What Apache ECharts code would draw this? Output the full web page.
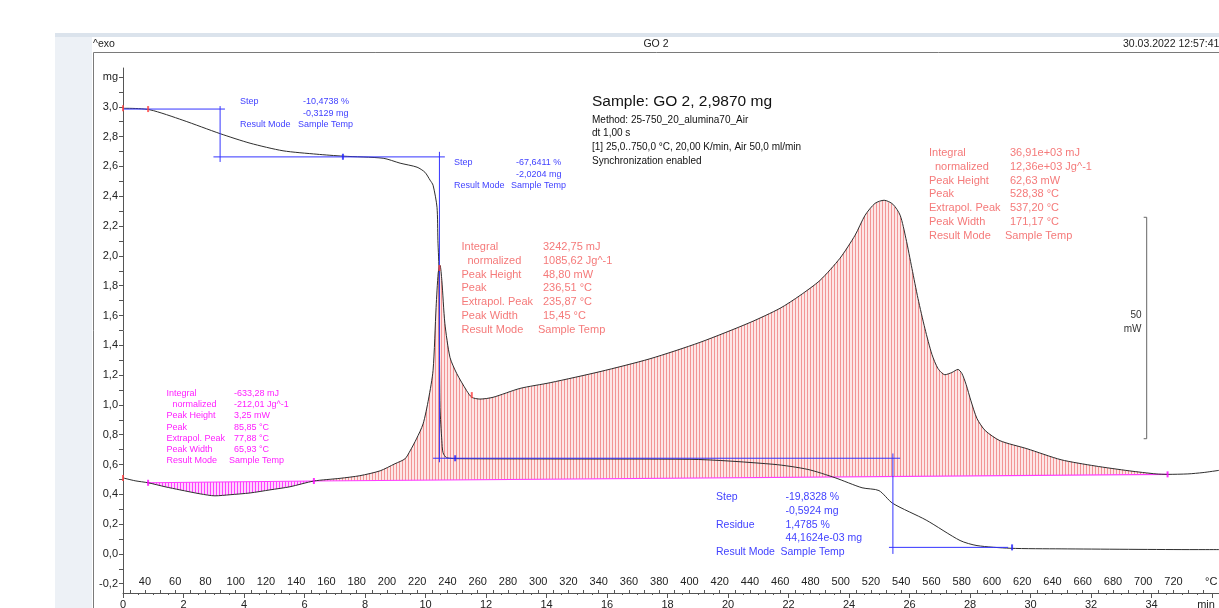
<!DOCTYPE html>
<html><head><meta charset="utf-8">
<script src="https://cdn.jsdelivr.net/npm/echarts@6/dist/echarts.min.js"></script>
<style>html,body{margin:0;padding:0;background:#fff;overflow:hidden}#c{width:1219px;height:608px}</style>
</head><body><div id="c"></div><script>
// ---------- data ----------
const tgaTime = [0, 0.13, 0.89, 1.98, 3.21, 4.20, 5.29, 6.41, 7.27, 8.60, 9.16, 9.72, 9.98, 10.15, 10.25, 10.38, 10.41, 10.45, 10.46, 10.48, 10.54, 10.58, 10.70, 11.14, 14.12, 18.74, 21.52, 22.64, 23.54, 24.43, 24.99, 25.44, 26.55, 27.67, 28.23, 29.32, 31.01, 35.47, 36.23];
const tgaMass = [2.99, 2.99, 2.98, 2.91, 2.82, 2.756, 2.705, 2.682, 2.669, 2.655, 2.622, 2.595, 2.561, 2.508, 2.474, 2.326, 2.104, 1.882, 1.432, 0.982, 0.760, 0.679, 0.645, 0.639, 0.637, 0.635, 0.601, 0.567, 0.511, 0.444, 0.425, 0.340, 0.227, 0.090, 0.056, 0.038, 0.034, 0.029, 0.029];

const dscTime = [0, 0.40, 0.83, 1.39, 1.88, 2.55, 3.04, 3.54, 4.20, 4.86, 5.52, 6.31, 7.17, 7.83, 8.50, 8.99, 9.32, 9.49, 9.70, 9.92, 10.10, 10.25, 10.35, 10.42, 10.48, 10.54, 10.64, 10.81, 11.03, 11.36, 11.53, 11.80, 12.23, 13.12, 14.12, 15.77, 17.42, 19.07, 20.73, 21.72, 22.38, 23.04, 23.70, 24.20, 24.53, 24.86, 25.16, 25.45, 25.69, 25.88, 26.08, 26.28, 26.51, 26.74, 26.94, 27.17, 27.40, 27.60, 27.73, 27.87, 28.03, 28.23, 28.50, 28.99, 29.88, 31.01, 32.13, 33.26, 34.15, 34.53, 35.20, 35.70, 36.23];
const dscPower = [0.2, -0.45, -0.9, -1.8, -2.5, -3.4, -3.85, -3.6, -3.2, -2.5, -1.8, -0.5, 0.1, 0.7, 1.8, 3.4, 4.5, 6.3, 9.0, 12.4, 18.0, 24.5, 38.7, 46.5, 48.2, 44.8, 35.1, 27.4, 23.8, 19.9, 18.4, 18.0, 18.4, 20.4, 21.7, 24.2, 27.1, 30.8, 35.3, 38.5, 41.4, 44.8, 49.8, 55.0, 59.5, 62.2, 62.9, 62.0, 59.5, 54.3, 47.5, 40.7, 33.9, 28.1, 24.9, 23.5, 24.0, 24.7, 23.8, 21.3, 17.6, 13.6, 10.9, 8.6, 6.8, 4.3, 2.9, 1.8, 1.1, 1.0, 1.1, 1.4, 1.9];

// integration baselines (min, mW)
const baselineEndo = [[0.83, -0.9], [6.31, -0.5]];
const baselineExo = [[6.31, -0.5], [34.53, 1.0]];
const exoSplit = 11.53;

// TGA step construction lines (min, mg)
const stepLines = [
  [[0, 2.985], [3.37, 2.985]],
  [[3.21, 3.005], [3.21, 2.63]],
  [[2.99, 2.664], [10.64, 2.664]],
  [[10.46, 2.698], [10.46, 0.615]],
  [[10.25, 0.642], [25.69, 0.642]],
  [[25.45, 0.674], [25.45, 0.0]],
  [[25.32, 0.044], [29.26, 0.044]]
];
const tgaRedMarks = [[0, 2.99], [0.83, 2.985]];
const tgaBlueMarks = [[7.27, 2.665], [10.98, 0.642], [29.39, 0.044]];
const dscRedMarks = [[0, 0.2], [10.46, 47.6], [11.53, 18.9]];
const dscMagentaMarks = [[0.83, -0.9], [6.31, -0.5], [34.53, 1.0]];
const scaleBar = [[33.74, 59.05], [33.84, 59.05], [33.84, 9.05], [33.74, 9.05]];

// tick labels
const massLabels = [-0.2, 0, 0.2, 0.4, 0.6, 0.8, 1.0, 1.2, 1.4, 1.6, 1.8, 2.0, 2.2, 2.4, 2.6, 2.8, 3.0, 3.2];
const massTicks = [-0.2, -0.1, 0, 0.1, 0.2, 0.3, 0.4, 0.5, 0.6, 0.7, 0.8, 0.9, 1.0, 1.1, 1.2, 1.3, 1.4, 1.5, 1.6, 1.7, 1.8, 1.9, 2.0, 2.1, 2.2, 2.3, 2.4, 2.5, 2.6, 2.7, 2.8, 2.9, 3.0, 3.1, 3.2];
const timeLabels = [0, 2, 4, 6, 8, 10, 12, 14, 16, 18, 20, 22, 24, 26, 28, 30, 32, 34, 35.8];
const tempLabels = [40, 60, 80, 100, 120, 140, 160, 180, 200, 220, 240, 260, 280, 300, 320, 340, 360, 380, 400, 420, 440, 460, 480, 500, 520, 540, 560, 580, 600, 620, 640, 660, 680, 700, 720, 745];
const tempTicks = [30, 40, 50, 60, 70, 80, 90, 100, 110, 120, 130, 140, 150, 160, 170, 180, 190, 200, 210, 220, 230, 240, 250, 260, 270, 280, 290, 300, 310, 320, 330, 340, 350, 360, 370, 380, 390, 400, 410, 420, 430, 440, 450, 460, 470, 480, 490, 500, 510, 520, 530, 540, 550, 560, 570, 580, 590, 600, 610, 620, 630, 640, 650, 660, 670, 680, 690, 700, 710, 720, 730, 740];

// text blocks
const stepText1 = [["Step", "-10,4738 %"], ["", "-0,3129 mg"], ["Result Mode", "Sample Temp"]];
const stepText2 = [["Step", "-67,6411 %"], ["", "-2,0204 mg"], ["Result Mode", "Sample Temp"]];
const stepText3 = [["Step", "-19,8328 %"], ["", "-0,5924 mg"], ["Residue", "1,4785 %"], ["", "44,1624e-03 mg"], ["Result Mode", "Sample Temp"]];
const peakTextEndo = [["Integral", "-633,28 mJ"], ["  normalized", "-212,01 Jg^-1"], ["Peak Height", "3,25 mW"], ["Peak", "85,85 °C"], ["Extrapol. Peak", "77,88 °C"], ["Peak Width", "65,93 °C"], ["Result Mode", "Sample Temp"]];
const peakTextExo1 = [["Integral", "3242,75 mJ"], ["  normalized", "1085,62 Jg^-1"], ["Peak Height", "48,80 mW"], ["Peak", "236,51 °C"], ["Extrapol. Peak", "235,87 °C"], ["Peak Width", "15,45 °C"], ["Result Mode", "Sample Temp"]];
const peakTextExo2 = [["Integral", "36,91e+03 mJ"], ["  normalized", "12,36e+03 Jg^-1"], ["Peak Height", "62,63 mW"], ["Peak", "528,38 °C"], ["Extrapol. Peak", "537,20 °C"], ["Peak Width", "171,17 °C"], ["Result Mode", "Sample Temp"]];
const infoLines = ["Method: 25-750_20_alumina70_Air", "dt 1,00 s", "[1] 25,0..750,0 °C, 20,00 K/min, Air 50,0 ml/min", "Synchronization enabled"];

// ---------- rendering ----------
const FONT = '"Liberation Sans", Arial, sans-serif';
const zip = (a, b) => a.map((v, i) => [v, b[i]]);
const T_MAX = 36.23;

function makePattern(line, bg, period) {
  const c = document.createElement('canvas');
  c.width = period; c.height = 4;
  const g = c.getContext('2d');
  g.fillStyle = bg; g.fillRect(0, 0, period, 4);
  g.fillStyle = line; g.fillRect(0, 0, 1, 4);
  return { image: c, repeat: 'repeat' };
}
const pinkPat = makePattern('#f29595', '#fde6e6', 3);
const magPat = makePattern('#ff40ff', '#ffd2ff', 3);

function baseAt(bl, t) {
  return bl[0][1] + (bl[1][1] - bl[0][1]) * (t - bl[0][0]) / (bl[1][0] - bl[0][0]);
}
function regionSeries(t1, t2, bl, pat) {
  return {
    type: 'custom', coordinateSystem: 'cartesian2d', xAxisIndex: 0, yAxisIndex: 1,
    data: [[t1, t2]], silent: true, z: 1,
    renderItem: function (params, api) {
      const pts = [];
      for (let i = 0; i < dscTime.length; i++) {
        if (dscTime[i] >= t1 - 1e-9 && dscTime[i] <= t2 + 1e-9) pts.push(api.coord([dscTime[i], dscPower[i]]));
      }
      pts.push(api.coord([t2, baseAt(bl, t2)]));
      pts.push(api.coord([t1, baseAt(bl, t1)]));
      return { type: 'polygon', shape: { points: pts }, style: { fill: pat, stroke: null } };
    }
  };
}

function textBlock(rows, x1, x2, y0, dy, size, color) {
  const els = [];
  rows.forEach((r, i) => {
    const y = y0 + i * dy;
    if (r[0]) els.push({ type: 'text', z: 100, style: { x: x1, y: y, text: r[0].replace(/^ +/, ''), fill: color, font: size + 'px ' + FONT, verticalAlign: 'middle', align: 'left' }, x: r[0].startsWith(' ') ? 6 : 0 });
    if (r[1]) els.push({ type: 'text', z: 100, style: { x: r[0] === 'Result Mode' ? x2 - 5 : x2, y: y, text: r[1], fill: color, font: size + 'px ' + FONT, verticalAlign: 'middle', align: 'left' } });
  });
  return els;
}

const BLUE = '#3434ff';
const BLUE_T = '#4242ff';
const PINK_T = '#f57a7a';
const MAG_T = '#ff20ff';

const graphics = [
  { type: 'rect', z: -10, silent: true, shape: { x: 55, y: 33, width: 1164, height: 4 }, style: { fill: '#dbe3ec' } },
  { type: 'rect', z: -10, silent: true, shape: { x: 55, y: 37, width: 37, height: 571 }, style: { fill: '#edf1f6' } },
  { type: 'rect', z: -9, silent: true, shape: { x: 93.5, y: 52.5, width: 1140, height: 570 }, style: { fill: 'none', stroke: '#7a7a7a', lineWidth: 1 } },
  { type: 'text', z: 100, style: { x: 93, y: 44, text: '^exo', fill: '#222', font: '10.5px ' + FONT, verticalAlign: 'middle' } },
  { type: 'text', z: 100, style: { x: 656, y: 44, text: 'GO 2', fill: '#222', font: '10.5px ' + FONT, verticalAlign: 'middle', align: 'center' } },
  { type: 'text', z: 100, style: { x: 1123, y: 44, text: '30.03.2022 12:57:41', fill: '#222', font: '10.5px ' + FONT, verticalAlign: 'middle' } },
  { type: 'text', z: 100, style: { x: 592, y: 101.5, text: 'Sample: GO 2, 2,9870 mg', fill: '#111', font: '15.5px ' + FONT, verticalAlign: 'middle' } },
  { type: 'text', z: 100, style: { x: 1141.5, y: 315.5, text: '50', fill: '#333', font: '10px ' + FONT, verticalAlign: 'middle', align: 'right' } },
  { type: 'text', z: 100, style: { x: 1141.5, y: 329, text: 'mW', fill: '#333', font: '10px ' + FONT, verticalAlign: 'middle', align: 'right' } }
];
infoLines.forEach((s, i) => graphics.push({ type: 'text', z: 100, style: { x: 592, y: 120 + i * 13.7, text: s, fill: '#111', font: '10px ' + FONT, verticalAlign: 'middle' } }));
graphics.push(...textBlock(stepText1, 240, 303, 102, 11.5, 9, BLUE_T));
graphics.push(...textBlock(stepText2, 454, 516, 163, 11.3, 9, BLUE_T));
graphics.push(...textBlock(stepText3, 716, 785.5, 497.5, 13.7, 10.5, BLUE_T));
graphics.push(...textBlock(peakTextEndo, 166.5, 234, 393.3, 11.25, 9, MAG_T));
graphics.push(...textBlock(peakTextExo1, 461.5, 543, 247.3, 13.7, 11, PINK_T));
graphics.push(...textBlock(peakTextExo2, 929, 1010, 153.3, 13.7, 11, PINK_T));

const lineBase = { type: 'line', showSymbol: false, symbol: 'none', silent: true, animation: false };
const series = [
  regionSeries(baselineEndo[0][0], baselineEndo[1][0], baselineEndo, magPat),
  regionSeries(baselineExo[0][0], exoSplit, baselineExo, pinkPat),
  regionSeries(exoSplit, baselineExo[1][0], baselineExo, pinkPat),
  Object.assign({}, lineBase, { yAxisIndex: 1, data: baselineEndo, lineStyle: { color: '#ff3cff', width: 1.2 }, z: 3 }),
  Object.assign({}, lineBase, { yAxisIndex: 1, data: baselineExo, lineStyle: { color: '#ff3cff', width: 1.2 }, z: 3 }),
  Object.assign({}, lineBase, { yAxisIndex: 1, data: zip(dscTime, dscPower), smooth: 0.25, lineStyle: { color: '#2e2e2e', width: 1 }, z: 5 }),
  Object.assign({}, lineBase, { yAxisIndex: 0, data: zip(tgaTime, tgaMass), smooth: 0.25, lineStyle: { color: '#2e2e2e', width: 1 }, z: 5 }),
  Object.assign({}, lineBase, { yAxisIndex: 1, data: scaleBar, lineStyle: { color: '#666', width: 1 }, z: 4 })
];
stepLines.forEach(seg => series.push(Object.assign({}, lineBase, { yAxisIndex: 0, data: seg, lineStyle: { color: BLUE, width: 1 }, z: 6 })));
const mk = (data, axis, color) => ({ type: 'scatter', yAxisIndex: axis, data: data, symbol: 'rect', symbolSize: [2, 6], itemStyle: { color: color }, silent: true, z: 8, animation: false });
series.push(mk(tgaRedMarks, 0, '#ff4040'), mk(tgaBlueMarks, 0, '#2020ff'), mk(dscRedMarks, 1, '#ff4040'), mk(dscMagentaMarks, 1, '#ff00ff'));

const fmtMass = v => { const r = Math.round(v * 10) / 10; return r > 3.1 ? 'mg' : r.toFixed(1).replace('.', ','); };

const option = {
  animation: false,
  backgroundColor: '#ffffff',
  grid: { left: 123, right: 0, top: 68, bottom: 15, containLabel: false, outerBoundsMode: 'none' },
  xAxis: [
    {
      type: 'value', min: 0, max: T_MAX, interval: 2, position: 'bottom',
      axisLine: { show: true, onZero: false, lineStyle: { color: '#555', width: 1 } },
      axisTick: { show: true, length: 5, lineStyle: { color: '#555' } },
      minorTick: { show: true, splitNumber: 4, length: 2, lineStyle: { color: '#555' } },
      axisLabel: { color: '#222', fontSize: 11, fontFamily: FONT, margin: 6, customValues: timeLabels, formatter: v => (v > 35 ? 'min' : String(v)) },
      splitLine: { show: false }
    },
    {
      type: 'value', min: 25.5, max: 25.5 + 20 * T_MAX, position: 'bottom',
      axisLine: { show: false, onZero: false },
      axisTick: { show: true, inside: true, length: 3, customValues: tempTicks, lineStyle: { color: '#555' } },
      axisLabel: { inside: true, color: '#222', fontSize: 11, fontFamily: FONT, margin: 6, customValues: tempLabels, formatter: v => (v === 745 ? '°C' : String(v)) },
      splitLine: { show: false }
    }
  ],
  yAxis: [
    {
      type: 'value', min: -0.26218, max: 3.2605, position: 'left',
      axisLine: { show: true, onZero: false, lineStyle: { color: '#555', width: 1 } },
      axisTick: { show: true, length: 4, customValues: massTicks, lineStyle: { color: '#555' } },
      axisLabel: { color: '#222', fontSize: 11, fontFamily: FONT, margin: 5, customValues: massLabels, formatter: fmtMass },
      splitLine: { show: false }
    },
    { type: 'value', min: -25.79, max: 92.76, show: false, splitLine: { show: false } }
  ],
  graphic: { elements: graphics },
  series: series
};
const chart = echarts.init(document.getElementById('c'), null, { renderer: 'canvas' });
chart.setOption(option);
</script></body></html>
